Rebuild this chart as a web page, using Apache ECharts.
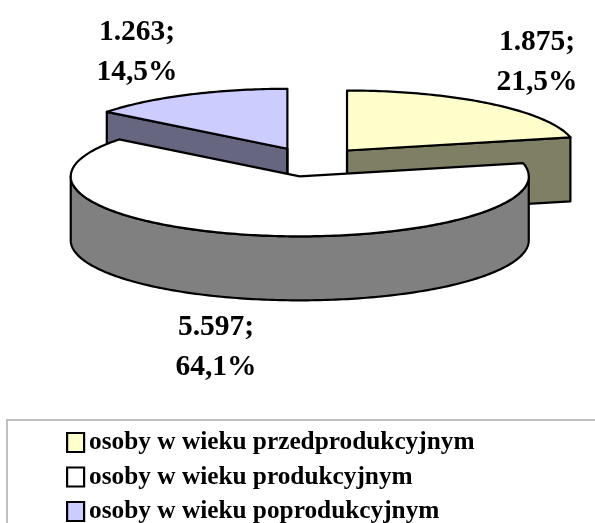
<!DOCTYPE html>
<html><head><meta charset="utf-8">
<style>html,body{margin:0;padding:0;background:#fff}#c{width:595px;height:523px}</style>
<script src="https://cdn.jsdelivr.net/npm/echarts@6/dist/echarts.min.js"></script>
</head><body><div id="c"></div>
<script>
const categories = ['osoby w wieku przedprodukcyjnym','osoby w wieku produkcyjnym','osoby w wieku poprodukcyjnym'];
const values = [1875, 5597, 1263];
const valueLabels = ['1.875','5.597','1.263'];
const percentLabels = ['21,5%','64,1%','14,5%'];
const topColors = ['#FFFFCC','#FFFFFF','#CCCCFF'];
const sideColors = ['#7F7F66','#808080','#666680'];
const drawOrder = [1,2,0]; // z rank: blue behind, then yellow, then white in front
const labelPos = [[537,62],[216,347],[137,52]];

const geo = {cx:312, cy:162, rx:229, ry:60, depth:64, explode:0.245};
const total = values.reduce((a,b)=>a+b,0);
const rad = d => d*Math.PI/180;

function slice(idx, api){
  let acc = 0; for(let i=0;i<idx;i++) acc += values[i];
  const a0 = acc/total*360, a1 = (acc+values[idx])/total*360, mid=(a0+a1)/2;
  const ox = geo.cx + geo.explode*geo.rx*Math.sin(rad(mid));
  const oy = geo.cy - geo.explode*geo.ry*Math.cos(rad(mid));
  const pt = (a,d=0)=>[ox+geo.rx*Math.sin(rad(a)), oy-geo.ry*Math.cos(rad(a))+d];
  const stroke = {stroke:'#000', lineWidth:2.2, lineJoin:'round'};
  const children = [];
  const poly = (points,fill)=>children.push({type:'polygon',shape:{points},style:{fill,...stroke}});
  const side = sideColors[idx];
  if(Math.sin(rad(a0))<-1e-6) poly([[ox,oy],pt(a0),pt(a0,geo.depth),[ox,oy+geo.depth]],side);
  if(Math.sin(rad(a1))>1e-6) poly([[ox,oy],pt(a1),pt(a1,geo.depth),[ox,oy+geo.depth]],side);
  if(Math.abs(a0)<1e-6||Math.abs(a1-360)<1e-6) children.push({type:'line',shape:{x1:ox,y1:oy,x2:ox,y2:oy+geo.depth},style:stroke});
  const w0=Math.max(a0,90), w1=Math.min(a1,270);
  if(w1>w0){
    const t=[],b=[];
    for(let a=w0;a<w1;a+=1){t.push(pt(a));b.push(pt(a,geo.depth));}
    t.push(pt(w1));b.push(pt(w1,geo.depth));
    poly(t.concat(b.reverse()),side);
  }
  const top=[[ox,oy]];
  for(let a=a0;a<a1;a+=1) top.push(pt(a));
  top.push(pt(a1));
  poly(top,topColors[idx]);
  children.push({type:'text',style:{
    x:labelPos[idx][0],y:labelPos[idx][1],
    text:valueLabels[idx]+';\n'+percentLabels[idx],
    fill:'#000',font:'bold 29.5px "Liberation Serif"',lineHeight:40,
    align:'center',verticalAlign:'middle'}});
  return {type:'group',children};
}

const chart = echarts.init(document.getElementById('c'),null,{renderer:'canvas'});
chart.setOption({
  animation:false,
  backgroundColor:'#fff',
  graphic:[{type:'rect',z:0,shape:{x:7,y:420,width:620,height:140},style:{fill:'#fff',stroke:'#C0C0C0',lineWidth:2}}],
  legend:{
    orient:'vertical',left:66,top:430,height:300,padding:0,itemWidth:17,itemHeight:19,itemGap:9.5,selectedMode:false,icon:'rect',z:5,
    textStyle:{fontFamily:'Liberation Serif',fontWeight:'bold',fontSize:25.3,color:'#000'},
    itemStyle:{borderColor:'#000',borderWidth:2.2},
    data:categories
  },
  series:categories.map((name,i)=>({
    type:'custom',name,coordinateSystem:'none',z:2+drawOrder[i],
    itemStyle:{color:topColors[i]},
    data:[values[i]],
    renderItem:(p,api)=>slice(i,api)
  }))
});
</script></body></html>
